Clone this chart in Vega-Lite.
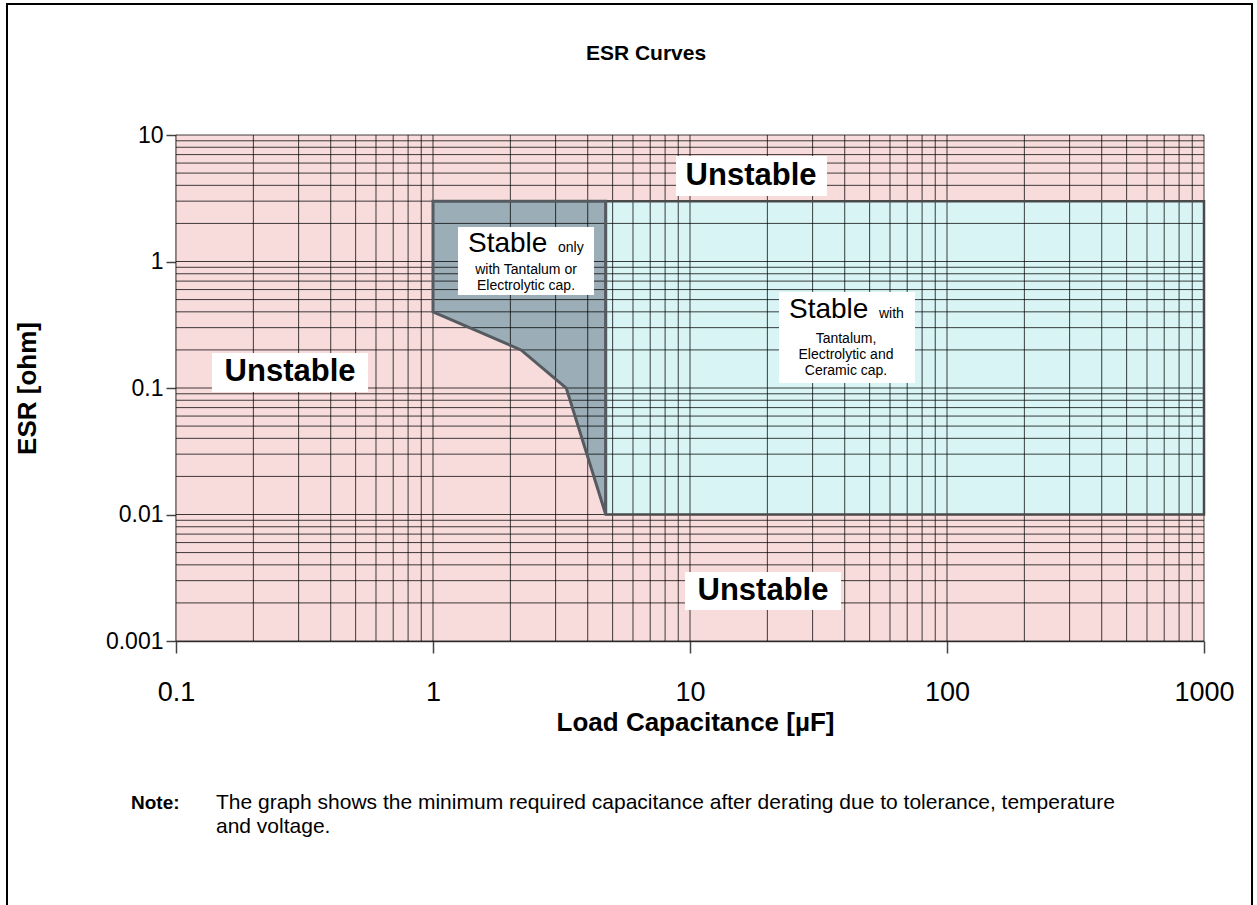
{
  "$schema": "https://vega.github.io/schema/vega-lite/v6.json",
  "width": 1028,
  "height": 506,
  "autosize": {"type": "none"},
  "padding": {"left": 176, "top": 135, "right": 53, "bottom": 264},
  "background": "#ffffff",
  "title": {"text": "ESR Curves", "font": "Liberation Sans", "fontSize": 21, "fontWeight": "bold", "color": "#000", "anchor": "middle", "frame": "group", "offset": 0, "dx": -44, "dy": 72, "baseline": "middle"},
  "config": {
    "view": {"stroke": null, "fill": null},
    "font": "Liberation Sans"
  },
  "datasets": {
    "plotArea": [{"x1": 0.1, "x2": 1000, "y1": 0.001, "y2": 10}],
    "wideStable": [{"x1": 4.7, "x2": 1000, "y1": 0.01, "y2": 3}],
    "narrowStable": [
      {"cap": 1, "esr": 0.4, "top": 3},
      {"cap": 2.2, "esr": 0.2, "top": 3},
      {"cap": 3.3, "esr": 0.1, "top": 3},
      {"cap": 4.7, "esr": 0.01, "top": 3}
    ],
    "xgrid": [
      {"v": 0.1}, {"v": 0.2}, {"v": 0.3}, {"v": 0.4}, {"v": 0.5}, {"v": 0.6}, {"v": 0.7}, {"v": 0.8}, {"v": 0.9},
      {"v": 1}, {"v": 2}, {"v": 3}, {"v": 4}, {"v": 5}, {"v": 6}, {"v": 7}, {"v": 8}, {"v": 9},
      {"v": 10}, {"v": 20}, {"v": 30}, {"v": 40}, {"v": 50}, {"v": 60}, {"v": 70}, {"v": 80}, {"v": 90},
      {"v": 100}, {"v": 200}, {"v": 300}, {"v": 400}, {"v": 500}, {"v": 600}, {"v": 700}, {"v": 800}, {"v": 900},
      {"v": 1000}
    ],
    "ygrid": [
      {"v": 0.001}, {"v": 0.002}, {"v": 0.003}, {"v": 0.004}, {"v": 0.005}, {"v": 0.006}, {"v": 0.007}, {"v": 0.008}, {"v": 0.009},
      {"v": 0.01}, {"v": 0.02}, {"v": 0.03}, {"v": 0.04}, {"v": 0.05}, {"v": 0.06}, {"v": 0.07}, {"v": 0.08}, {"v": 0.09},
      {"v": 0.1}, {"v": 0.2}, {"v": 0.3}, {"v": 0.4}, {"v": 0.5}, {"v": 0.6}, {"v": 0.7}, {"v": 0.8}, {"v": 0.9},
      {"v": 1}, {"v": 2}, {"v": 3}, {"v": 4}, {"v": 5}, {"v": 6}, {"v": 7}, {"v": 8}, {"v": 9},
      {"v": 10}
    ],
    "boxes": [
      {"x1": 8.82, "x2": 34.13, "y1": 3.296, "y2": 6.82},
      {"x1": 0.138, "x2": 0.5585, "y1": 0.093, "y2": 0.1891},
      {"x1": 9.56, "x2": 38.68, "y1": 0.001758, "y2": 0.00351},
      {"x1": 1.251, "x2": 4.232, "y1": 0.5436, "y2": 1.874},
      {"x1": 22.2, "x2": 75.08, "y1": 0.1095, "y2": 0.574}
    ],
    "unstable": [
      {"x": 17.28, "y": 4.74, "label": "Unstable"},
      {"x": 0.2778, "y": 0.1338, "label": "Unstable"},
      {"x": 19.23, "y": 0.002485, "label": "Unstable"}
    ],
    "stableWords": [
      {"x": 1.368, "y": 1.189, "label": "Stable"},
      {"x": 24.28, "y": 0.3576, "label": "Stable"}
    ],
    "stableSuffix": [
      {"x": 3.064, "y": 1.189, "label": "only"},
      {"x": 54.37, "y": 0.3576, "label": "with"}
    ],
    "capLines": [
      {"x": 2.301, "y": 0.8564, "label": "with Tantalum or"},
      {"x": 2.301, "y": 0.6404, "label": "Electrolytic cap."},
      {"x": 40.46, "y": 0.244, "label": "Tantalum,"},
      {"x": 40.46, "y": 0.1824, "label": "Electrolytic and"},
      {"x": 40.46, "y": 0.1363, "label": "Ceramic cap."}
    ],
    "noteHead": [{"x": 0.06682, "y": 5.241e-5, "label": "Note:"}],
    "noteBody": [
      {"x": 0.1431, "y": 5.241e-5, "label": "The graph shows the minimum required capacitance after derating due to tolerance, temperature"},
      {"x": 0.1431, "y": 3.385e-5, "label": "and voltage."}
    ]
  },
  "layer": [
    {
      "data": {"name": "plotArea"},
      "mark": {"type": "rect", "fill": "#f8dcdc", "strokeWidth": 0},
      "encoding": {
        "x": {"field": "x1", "type": "quantitative",
          "scale": {"type": "log", "domain": [0.1, 1000], "nice": false},
          "axis": {"orient": "bottom", "values": [0.1, 1, 10, 100, 1000], "format": "~g", "grid": false,
            "domainColor": "#444", "domainWidth": 1.5, "tickSize": 12, "tickColor": "#444", "tickWidth": 1.5,
            "labelFont": "Liberation Sans", "labelFontSize": 27, "labelColor": "#000", "labelPadding": 26, "labelOverlap": false, "labelFlush": false,
            "title": "Load Capacitance [µF]", "titleFont": "Liberation Sans", "titleFontSize": 26, "titleFontWeight": "bold", "titleColor": "#000",
            "titleX": 519, "titleY": 81, "titleBaseline": "middle"}},
        "x2": {"field": "x2"},
        "y": {"field": "y1", "type": "quantitative",
          "scale": {"type": "log", "domain": [0.001, 10], "nice": false},
          "axis": {"orient": "left", "values": [0.001, 0.01, 0.1, 1, 10], "format": "~g", "grid": false,
            "domainColor": "#444", "domainWidth": 1.5, "tickSize": 10, "tickColor": "#444", "tickWidth": 1.5,
            "labelFont": "Liberation Sans", "labelFontSize": 23, "labelColor": "#000", "labelPadding": 3, "labelOverlap": false, "labelFlush": false,
            "title": "ESR [ohm]", "titleFont": "Liberation Sans", "titleFontSize": 26, "titleFontWeight": "bold", "titleColor": "#000",
            "titleX": -149, "titleY": 253, "titleBaseline": "middle"}},
        "y2": {"field": "y2"}
      }
    },
    {
      "data": {"name": "wideStable"},
      "mark": {"type": "rect", "fill": "#d8f4f4", "strokeWidth": 0},
      "encoding": {
        "x": {"field": "x1", "type": "quantitative"},
        "x2": {"field": "x2"},
        "y": {"field": "y1", "type": "quantitative"},
        "y2": {"field": "y2"}
      }
    },
    {
      "data": {"name": "narrowStable"},
      "mark": {"type": "area", "fill": "#9badb6", "fillOpacity": 1, "strokeWidth": 0},
      "encoding": {
        "x": {"field": "cap", "type": "quantitative"},
        "y": {"field": "esr", "type": "quantitative"},
        "y2": {"field": "top"}
      }
    },
    {
      "data": {"name": "xgrid"},
      "mark": {"type": "rule", "color": "#000", "opacity": 0.75, "strokeWidth": 1},
      "encoding": {
        "x": {"field": "v", "type": "quantitative"}
      }
    },
    {
      "data": {"name": "ygrid"},
      "mark": {"type": "rule", "color": "#000", "opacity": 0.75, "strokeWidth": 1},
      "encoding": {
        "y": {"field": "v", "type": "quantitative"}
      }
    },
    {
      "data": {"name": "wideStable"},
      "mark": {"type": "rect", "fillOpacity": 0, "stroke": "#4a4a4a", "strokeWidth": 2.5},
      "encoding": {
        "x": {"field": "x1", "type": "quantitative"},
        "x2": {"field": "x2"},
        "y": {"field": "y1", "type": "quantitative"},
        "y2": {"field": "y2"}
      }
    },
    {
      "data": {"name": "narrowStable"},
      "mark": {"type": "area", "fillOpacity": 0, "stroke": "#555b60", "strokeWidth": 3},
      "encoding": {
        "x": {"field": "cap", "type": "quantitative"},
        "y": {"field": "esr", "type": "quantitative"},
        "y2": {"field": "top"}
      }
    },
    {
      "data": {"name": "boxes"},
      "mark": {"type": "rect", "fill": "#ffffff", "strokeWidth": 0},
      "encoding": {
        "x": {"field": "x1", "type": "quantitative"},
        "x2": {"field": "x2"},
        "y": {"field": "y1", "type": "quantitative"},
        "y2": {"field": "y2"}
      }
    },
    {
      "data": {"name": "plotArea"},
      "mark": {"type": "rect", "fillOpacity": 0, "stroke": "#000", "strokeWidth": 2},
      "encoding": {
        "x": {"datum": 0.022, "type": "quantitative"},
        "x2": {"datum": 1537.6},
        "y": {"datum": 108.5, "type": "quantitative"},
        "y2": {"datum": 0.000005}
      }
    },
    {
      "data": {"name": "unstable"},
      "mark": {"type": "text", "font": "Liberation Sans", "fontSize": 31, "fontWeight": "bold", "color": "#000", "align": "center", "baseline": "middle"},
      "encoding": {
        "x": {"field": "x", "type": "quantitative"},
        "y": {"field": "y", "type": "quantitative"},
        "text": {"field": "label"}
      }
    },
    {
      "data": {"name": "stableWords"},
      "mark": {"type": "text", "font": "Liberation Sans", "fontSize": 28, "color": "#000", "align": "left", "baseline": "alphabetic"},
      "encoding": {
        "x": {"field": "x", "type": "quantitative"},
        "y": {"field": "y", "type": "quantitative"},
        "text": {"field": "label"}
      }
    },
    {
      "data": {"name": "stableSuffix"},
      "mark": {"type": "text", "font": "Liberation Sans", "fontSize": 14, "color": "#000", "align": "left", "baseline": "alphabetic"},
      "encoding": {
        "x": {"field": "x", "type": "quantitative"},
        "y": {"field": "y", "type": "quantitative"},
        "text": {"field": "label"}
      }
    },
    {
      "data": {"name": "capLines"},
      "mark": {"type": "text", "font": "Liberation Sans", "fontSize": 14, "color": "#000", "align": "center", "baseline": "middle"},
      "encoding": {
        "x": {"field": "x", "type": "quantitative"},
        "y": {"field": "y", "type": "quantitative"},
        "text": {"field": "label"}
      }
    },
    {
      "data": {"name": "noteHead"},
      "mark": {"type": "text", "font": "Liberation Sans", "fontSize": 19, "fontWeight": "bold", "color": "#000", "align": "left", "baseline": "middle"},
      "encoding": {
        "x": {"field": "x", "type": "quantitative"},
        "y": {"field": "y", "type": "quantitative"},
        "text": {"field": "label"}
      }
    },
    {
      "data": {"name": "noteBody"},
      "mark": {"type": "text", "font": "Liberation Sans", "fontSize": 21, "color": "#000", "align": "left", "baseline": "middle"},
      "encoding": {
        "x": {"field": "x", "type": "quantitative"},
        "y": {"field": "y", "type": "quantitative"},
        "text": {"field": "label"}
      }
    }
  ]
}
